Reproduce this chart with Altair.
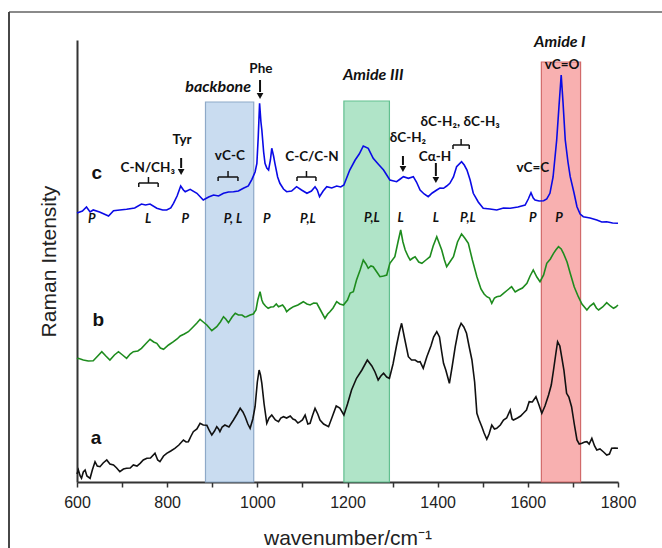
import altair as alt
import pandas as pd

# ---------------- data ----------------
c_x = [600, 612, 621, 629, 636, 650, 670, 681, 695, 710, 728, 743, 752, 762, 777, 790, 799, 808, 814, 822,
       830, 836, 840, 851, 866, 880, 892, 903, 914, 925, 936, 947, 958, 969, 980, 988, 995, 999, 1002, 1005,
       1008, 1010, 1014, 1017, 1021, 1025, 1029, 1032, 1036, 1039, 1045, 1050, 1058, 1065, 1076, 1087, 1098,
       1110, 1120, 1128, 1133, 1138, 1146, 1154, 1165, 1176, 1185, 1192, 1205, 1217, 1226, 1235, 1246, 1257,
       1268, 1280, 1294, 1309, 1317, 1324, 1335, 1346, 1353, 1361, 1370, 1379, 1388, 1398, 1405, 1413, 1420,
       1427, 1435, 1442, 1453, 1459, 1465, 1472, 1479, 1490, 1501, 1516, 1531, 1546, 1561, 1578, 1594, 1601,
       1607, 1612, 1616, 1625, 1635, 1642, 1649, 1656, 1664, 1669, 1674, 1678, 1683, 1689, 1694, 1702, 1709,
       1716, 1723, 1738, 1753, 1764, 1775, 1788, 1800]
c_y = [269, 271, 275, 270, 272, 270, 266, 271.3, 272, 272.7, 274, 278, 277, 278, 273.7, 272, 272, 274, 278.7, 286,
       296, 292, 290.3, 292.7, 288.7, 282, 285, 287, 286, 288.7, 290, 290.3, 291, 293.7, 296, 302.7, 310, 318.7, 345, 378.7,
       360, 352, 330, 318.7, 314, 312, 322, 333.7, 326, 318.7, 305, 298.7, 293, 290.3, 291, 295.3, 292,
       288.7, 291, 295.3, 292, 285.3, 291, 295.3, 294, 296, 295, 297, 312, 322, 328, 336, 333.7, 323.7,
       318, 312, 302, 300.3, 303, 305.3, 303.7, 305.3, 300, 292, 288, 285.3, 289, 292, 294, 293.7, 296,
       298.7, 305, 315.3, 320.3, 317, 312, 302, 288.7, 280, 273.7, 273, 272, 274, 273.7, 275, 277, 283,
       289.3, 284, 282, 281, 281.3, 283, 288.7, 305, 342, 375, 407, 380, 342, 320, 305.3, 290, 275.3,
       268, 265.3, 264, 262, 260, 260.3, 259, 258.7]

b_x = [600, 603, 614, 625, 636, 646, 655, 664, 673, 683, 692, 701, 710, 718, 725, 735, 743, 752, 762, 770,
       777, 785, 792, 803, 814, 822, 829, 838, 847, 858, 866, 873, 880, 888, 899, 910, 918, 925, 930, 936,
       944, 951, 958, 966, 972, 976, 984, 991, 997, 1001, 1006, 1010, 1013, 1018, 1024, 1030, 1036, 1042,
       1047, 1056, 1061, 1065, 1072, 1080, 1090, 1102, 1110, 1117, 1125, 1132, 1140, 1150, 1156, 1161, 1168,
       1176, 1183, 1191, 1200, 1206, 1213, 1220, 1228, 1235, 1241, 1246, 1252, 1257, 1265, 1272, 1280, 1287,
       1294, 1305, 1312, 1318, 1323, 1328, 1335, 1339, 1345, 1350, 1358, 1365, 1374, 1383, 1390, 1398, 1404,
       1409, 1415, 1420, 1427, 1435, 1444, 1453, 1460, 1468, 1477, 1487, 1496, 1503, 1509, 1515, 1520, 1526,
       1531, 1539, 1546, 1555, 1564, 1572, 1579, 1588, 1598, 1605, 1612, 1620, 1627, 1635, 1642, 1650, 1657,
       1662, 1668, 1674, 1679, 1687, 1694, 1703, 1712, 1720, 1731, 1738, 1746, 1752, 1757, 1766, 1775, 1783,
       1790, 1795, 1800]
b_y = [123, 123.7, 122, 121, 121.3, 126, 130.3, 126, 122, 127, 130.3, 127, 123.7, 128, 130.3, 131, 133.7, 138, 142.7, 140,
       138.7, 134, 132.7, 137, 140.3, 143, 146, 148, 150.3, 155.3, 159, 162.7, 160, 157, 151.3, 155.3, 160, 165.3, 163, 159.3,
       165, 168.7, 167, 167, 165, 165.3, 167, 168, 172, 182, 190.3, 182, 178.7, 176, 173.7, 175, 175.3, 178,
       175.3, 177, 174, 170.3, 173, 175.3, 177, 180.3, 178, 177, 179, 178.7, 172, 163.7, 168, 170.3, 174,
       180.3, 178, 177, 182, 189, 190.3, 202, 212, 222, 218, 213.7, 216, 215.3, 210, 205.3, 206, 207,
       218.7, 225.3, 240, 252, 240, 232, 225, 222, 224, 225.3, 220, 218.7, 222, 225.3, 236, 245.3, 238,
       232, 222, 215.3, 220, 225.3, 240, 248, 244, 238.7, 222, 205.3, 193, 188, 185.3, 184, 178.7, 184,
       185.3, 186, 188.7, 192, 195.3, 190, 192, 194, 198.7, 206, 212, 205, 200.3, 207, 218.7, 223, 228.7,
       232, 235.3, 233, 228.7, 220, 208.7, 195, 185.3, 178, 172, 176, 178.7, 174, 172, 175, 179.3, 176,
       173.7, 175, 177]

a_x = [600, 603, 607, 610, 614, 618, 622, 629, 634, 640, 645, 651, 658, 666, 673, 681, 688, 695, 703, 710,
       718, 725, 733, 740, 747, 755, 763, 773, 779, 784, 792, 799, 808, 817, 826, 836, 842, 847, 853, 858,
       866, 873, 880, 888, 894, 899, 905, 910, 914, 917, 922, 928, 937, 947, 955, 962, 968, 973, 979, 984,
       990, 995, 1000, 1004, 1007, 1010, 1015, 1021, 1026, 1032, 1040, 1047, 1052, 1058, 1065, 1073, 1079,
       1084, 1090, 1095, 1100, 1106, 1112, 1117, 1122, 1128, 1134, 1139, 1147, 1158, 1166, 1175, 1183, 1192,
       1200, 1209, 1220, 1232, 1244, 1249, 1254, 1261, 1268, 1274, 1280, 1287, 1293, 1301, 1309, 1315, 1320,
       1326, 1335, 1342, 1350, 1356, 1361, 1368, 1376, 1385, 1391, 1398, 1404, 1409, 1413, 1418, 1426, 1432,
       1439, 1446, 1452, 1458, 1464, 1470, 1476, 1482, 1487, 1492, 1498, 1503, 1509, 1514, 1520, 1526, 1531,
       1539, 1546, 1553, 1561, 1565, 1568, 1577, 1584, 1590, 1597, 1603, 1610, 1618, 1624, 1631, 1638, 1646,
       1652, 1657, 1662, 1666, 1671, 1675, 1680, 1686, 1691, 1697, 1703, 1709, 1714, 1720, 1726, 1731, 1736,
       1742, 1748, 1753, 1760, 1768, 1775, 1781, 1786, 1793, 1800]
a_y = [8, 12, 6, 3.7, 10, 12, 6, 3.7, 12, 20.3, 16, 15.3, 19, 22, 18, 17, 14, 10.3, 13, 13.7,
       14, 17, 16, 18.7, 22, 23.7, 24, 28.7, 22, 20.3, 26, 28.7, 31, 33.7, 37, 42, 40, 40.3, 46, 50.3,
       53, 58.7, 57, 56.7, 51, 47, 51, 55.3, 53, 50.3, 55, 57, 55, 62, 68, 73.7, 70, 65.3, 58, 53.7,
       63, 75.3, 100, 112, 107, 98.7, 78, 58.7, 64, 67, 62, 60.3, 64, 65.3, 64, 66, 63,
       62, 59, 60.3, 62, 67, 58, 58.7, 66, 73.7, 68, 62, 58, 55.3, 65, 76, 74, 67,
       78, 92, 103.7, 112, 122, 119, 116, 110, 102, 106, 108.7, 105, 103.7, 118, 137, 150, 158.7,
       145, 125.3, 122, 122, 120, 120.3, 113.7, 125.3, 136, 145, 150.3, 145, 130, 118.7, 112, 98.7, 115,
       135.3, 152, 158.7, 155, 148.7, 135, 122, 100, 68.7, 62, 55.3, 49, 42.7, 48, 57, 53, 53.7,
       57, 62, 64, 72, 63, 62, 64, 66, 68.7, 72, 80.3, 80, 85.3, 78, 68.7, 76, 87,
       97, 112, 128, 140.3, 136, 125.3, 112, 88.7, 85, 75.3, 58, 42, 38, 38.7, 40, 40.3, 38,
       43.7, 36, 32, 33, 30, 27, 28, 33.7, 34, 33.7]

series_names = ["a", "b", "c"]
series_colors = ["#111111", "#1e8c1e", "#0a0ae6"]

# shaded bands
band_start = [885, 1192, 1630]
band_end = [992, 1293, 1717]
band_top = [380, 381, 420]
band_fill = ["#c9dcf0", "#b0e4c8", "#f8b0b0"]
band_stroke = ["#8ea9c8", "#62bf90", "#d26a6a"]

# curve letters
letter_text = ["c", "b", "a"]
letter_x = [644, 647, 642]
letter_y = [309, 162, 44]

# assignment labels (bold)
ann_text = ["C-N/CH₃", "Tyr", "vC-C", "Phe", "C-C/C-N", "δC-H₂", "Cα-H", "δC-H₂, δC-H₃", "vC=C", "vC=O"]
ann_x = [757, 833, 939, 1008, 1121, 1334, 1394, 1450, 1611, 1676]
ann_y = [314, 342, 326, 413, 325, 344, 325, 360, 314, 417]

# region titles (bold italic)
title_text = ["backbone", "Amide III", "Amide I"]
title_x = [913, 1257, 1671]
title_y = [395, 407, 440]

# P / L labels
pl_text = ["P", "L", "P", "P, L", "P", "P,L", "P,L", "L", "L", "P,L", "P", "P"]
pl_x = [633, 758, 840, 946, 1021, 1112, 1254, 1318, 1396, 1467, 1611, 1669]
pl_y = [263, 263, 263, 263, 263, 263, 264, 264, 264, 264, 264, 264]

# arrows
arrow_x = [831, 1006, 1323, 1396]
arrow_top = [324, 402, 326, 319]
arrow_tip = [310, 386, 313, 302]

# brackets
br_x1 = [737, 913, 1088, 1434]
br_x2 = [780, 957, 1130, 1470]
br_y = [299, 305, 305, 337]

# ---------------- tables ----------------
rows = []
for name, xs, ys in [("a", a_x, a_y), ("b", b_x, b_y), ("c", c_x, c_y)]:
    for x, y in zip(xs, ys):
        rows.append({"wn": x, "I": y, "s": name})
spec = pd.DataFrame(rows)

bands = pd.DataFrame({"x1": band_start, "x2": band_end, "top": band_top,
                      "fill": band_fill, "stroke": band_stroke, "bottom": [0, 0, 0]})

segs = []
for x1, x2, y in zip(br_x1, br_x2, br_y):
    xm = (x1 + x2) / 2
    segs += [
        {"x": x1, "x2": x2, "y": y, "y2": y},
        {"x": x1, "x2": x1, "y": y, "y2": y - 4},
        {"x": x2, "x2": x2, "y": y, "y2": y - 4},
        {"x": xm, "x2": xm, "y": y, "y2": y + 6},
    ]
segs = pd.DataFrame(segs)

arrows = pd.DataFrame({"x": arrow_x, "top": arrow_top, "tip": arrow_tip})
arrows["shaft_end"] = arrows["tip"] + 4

xscale = alt.Scale(domain=[600, 1800], nice=False)
yscale = alt.Scale(domain=[0, 442], nice=False)

X = lambda f: alt.X(f, type="quantitative", scale=xscale)
Y = lambda f: alt.Y(f, type="quantitative", scale=yscale)

band_layer = alt.Chart(bands).mark_rect(strokeWidth=1.2).encode(
    x=alt.X("x1:Q", scale=xscale,
            axis=alt.Axis(title="wavenumber/cm⁻¹", values=list(range(600, 1801, 100)),
                          labelExpr="datum.value % 200 == 0 ? datum.label : ''", format="d",
                          labelFlush=False)),
    x2="x2:Q",
    y=alt.Y("bottom:Q", scale=yscale, axis=alt.Axis(title="Raman Intensity", ticks=False, labels=False)),
    y2="top:Q",
    fill=alt.Fill("fill:N", scale=None),
    stroke=alt.Stroke("stroke:N", scale=None),
)

lines = alt.Chart(spec).mark_line(strokeWidth=1.6).encode(
    x=X("wn"), y=Y("I"),
    color=alt.Color("s:N", scale=alt.Scale(domain=series_names, range=series_colors), legend=None),
)

letters = alt.Chart(pd.DataFrame({"t": letter_text, "x": letter_x, "y": letter_y})).mark_text(
    font="Liberation Sans", fontWeight="bold", fontSize=19, color="#111"
).encode(x=X("x"), y=Y("y"), text="t:N")

anns = alt.Chart(pd.DataFrame({"t": ann_text, "x": ann_x, "y": ann_y})).mark_text(
    font="Lato", fontWeight="bold", fontSize=13.5, color="#111"
).encode(x=X("x"), y=Y("y"), text="t:N")

titles = alt.Chart(pd.DataFrame({"t": title_text, "x": title_x, "y": title_y})).mark_text(
    font="Lato", fontWeight="bold", fontStyle="italic", fontSize=16, color="#111"
).encode(x=X("x"), y=Y("y"), text="t:N")

pls = alt.Chart(pd.DataFrame({"t": pl_text, "x": pl_x, "y": pl_y})).mark_text(
    font="Lato", fontWeight="bold", fontStyle="italic", fontSize=13, color="#111"
).encode(x=X("x"), y=Y("y"), text="t:N")

brackets = alt.Chart(segs).mark_rule(strokeWidth=1.5, color="#111").encode(
    x=X("x"), x2="x2:Q", y=Y("y"), y2="y2:Q")

shafts = alt.Chart(arrows).mark_rule(strokeWidth=2, color="#111").encode(
    x=X("x"), y=Y("top"), y2="shaft_end:Q")
heads = alt.Chart(arrows).mark_point(shape="triangle-down", filled=True, size=45, color="#111", opacity=1).encode(
    x=X("x"), y=Y("tip"))

frame_top = alt.Chart(bands).mark_rule(color="#888", strokeWidth=1.5).encode(
    x=alt.value(-68), x2=alt.value(600), y=alt.value(-28))
frame_left = alt.Chart(bands).mark_rule(color="#444", strokeWidth=1.5).encode(
    x=alt.value(-68), y=alt.value(-28), y2=alt.value(520))

chart = alt.layer(
    band_layer, lines, brackets, shafts, heads, letters, anns, titles, pls, frame_top, frame_left
).properties(
    width=541, height=442,
    autosize=alt.AutoSizeParams(type="none"),
    padding={"left": 77, "top": 40, "right": 44, "bottom": 66},
).configure_view(stroke=None).configure_axis(
    grid=False, domainColor="#333", domainWidth=2, tickColor="#333", tickWidth=1.5, tickSize=5,
    labelFont="Liberation Sans", labelFontSize=16, labelColor="#222", labelPadding=7,
    titleFont="Liberation Sans", titleFontSize=21, titleFontWeight="normal", titleColor="#222",
).configure_axisX(titlePadding=17).configure_axisY(titlePadding=18)

chart.save("out.html", embed_options={"renderer": "svg", "actions": False})
